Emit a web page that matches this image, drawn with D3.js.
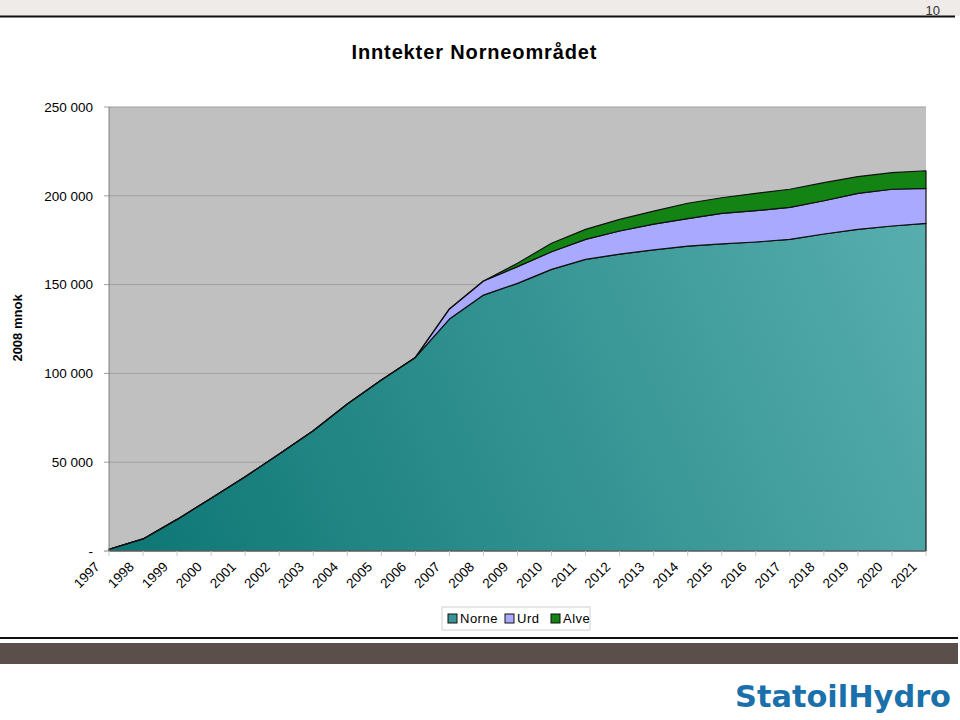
<!DOCTYPE html>
<html>
<head>
<meta charset="utf-8">
<script src="https://cdn.jsdelivr.net/npm/d3@7"></script>
<style>
  body { margin: 0; background: #fff; }
  svg { display: block; font-family: "Liberation Sans", Arial, sans-serif; }
</style>
</head>
<body>
<svg width="960" height="720"></svg>
<script>
// Years on the x axis
let years = d3.range(1997, 2022);

// Stacked revenue (mnok, 2008 value) per field
let norne = [1000, 6800, 17800, 29700, 41800, 54600, 67700, 82800, 96300, 109000,
    130600, 144100, 150700, 158600, 164200, 167200, 169500, 171700, 172900, 174000,
    175500, 178500, 181100, 183000, 184500];
let urd = [0, 0, 0, 0, 0, 0, 0, 0, 0, 0,
    5700, 7900, 9400, 9900, 11300, 13000, 14600, 15400, 17200, 17600,
    18000, 18700, 20300, 20700, 19700];
let alve = [0, 0, 0, 0, 0, 0, 0, 0, 0, 0,
    0, 0, 1900, 4800, 5600, 6500, 7300, 8700, 8800, 9800,
    10200, 10200, 9400, 9300, 9900];

let seriesNames = ["Norne", "Urd", "Alve"];
let yTicks = [0, 50000, 100000, 150000, 200000, 250000];

// The svg
let svg = d3.select("svg"),
    width = +svg.attr("width"),
    height = +svg.attr("height");

let margin = {left: 109, right: 34, top: 107, bottom: 169};

let x = d3.scaleLinear()
    .domain([1997, 2021])
    .range([margin.left, width - margin.right]);

let y = d3.scaleLinear()
    .domain([0, 250000])
    .range([height - margin.bottom, margin.top]);

// Header strip with page number
svg.append("rect")
    .attr("x", 0).attr("y", 0)
    .attr("width", width).attr("height", 16)
    .attr("fill", "#eeebe8");
svg.append("line")
    .attr("x1", 0).attr("x2", 955)
    .attr("y1", 16.5).attr("y2", 16.5)
    .attr("stroke", "#111").attr("stroke-width", 2);
svg.append("text")
    .attr("x", 940).attr("y", 15)
    .attr("text-anchor", "end")
    .style("font-size", "13px")
    .style("fill", "#333")
    .text("10");

// Title
svg.append("text")
    .attr("x", 474).attr("y", 59)
    .attr("text-anchor", "middle")
    .attr("textLength", 245)
    .style("font-size", "20px")
    .style("font-weight", "bold")
    .text("Inntekter Norneområdet");

// Gradient for Norne
let defs = svg.append("defs");
let grad = defs.append("linearGradient")
    .attr("id", "norneGrad")
    .attr("gradientUnits", "userSpaceOnUse")
    .attr("x1", x(1997)).attr("y1", y(0))
    .attr("x2", x(2021)).attr("y2", y(190000));
grad.append("stop").attr("offset", "0%").attr("stop-color", "#0c7674");
grad.append("stop").attr("offset", "100%").attr("stop-color", "#58aeae");

// Plot background
svg.append("rect")
    .attr("x", x(1997)).attr("y", y(250000))
    .attr("width", x(2021) - x(1997))
    .attr("height", y(0) - y(250000))
    .attr("fill", "#c0c0c0");

// Grid lines
svg.selectAll(".grid")
    .data(yTicks.filter(d => d > 0))
    .enter().append("line")
    .attr("x1", x(1997) - 5).attr("x2", x(2021))
    .attr("y1", d => y(d)).attr("y2", d => y(d))
    .attr("stroke", "#a0a0a0")
    .attr("stroke-width", 1);

// Stack the data
let table = years.map((yr, i) => ({year: yr, Norne: norne[i], Urd: urd[i], Alve: alve[i]}));
let stacked = d3.stack().keys(seriesNames)(table);
let fills = {Norne: "url(#norneGrad)", Urd: "#a9a9ff", Alve: "#138313"};

let area = d3.area()
    .x(d => x(d.data.year))
    .y0(d => y(d[0]))
    .y1(d => y(d[1]));

svg.selectAll(".layer")
    .data(stacked)
    .enter().append("path")
    .attr("class", "layer")
    .attr("d", area)
    .attr("fill", d => fills[d.key])
    .attr("stroke", "#111")
    .attr("stroke-width", 1.2)
    .attr("stroke-linejoin", "round");

// Axes lines
svg.append("line")
    .attr("x1", x(1997)).attr("x2", x(1997))
    .attr("y1", y(250000)).attr("y2", y(0))
    .attr("stroke", "#808080");
svg.append("line")
    .attr("x1", x(1997) - 5).attr("x2", x(2021))
    .attr("y1", y(0)).attr("y2", y(0))
    .attr("stroke", "#808080");

// x ticks
svg.selectAll(".xtick")
    .data(years)
    .enter().append("line")
    .attr("x1", d => x(d)).attr("x2", d => x(d))
    .attr("y1", y(0)).attr("y2", y(0) + 5)
    .attr("stroke", "#c8c8c8");

// x labels
svg.selectAll(".xlabel")
    .data(years)
    .enter().append("text")
    .attr("transform", d => "translate(" + (x(d) - 15) + "," + (y(0) + 10) + ") rotate(-45)")
    .attr("text-anchor", "end")
    .attr("dy", "0.7em")
    .style("font-size", "13.5px")
    .text(d => d);

// y labels
svg.selectAll(".ylabel")
    .data(yTicks)
    .enter().append("text")
    .attr("x", 93)
    .attr("y", d => y(d))
    .attr("dy", "0.35em")
    .attr("text-anchor", "end")
    .style("font-size", "13.5px")
    .text(d => d === 0 ? "-" : d3.format(",")(d).replace(",", " "));

// y axis title
svg.append("text")
    .attr("transform", "translate(22,328) rotate(-90)")
    .attr("text-anchor", "middle")
    .style("font-size", "13px")
    .style("font-weight", "bold")
    .text("2008 mnok");

// Legend
let legend = svg.append("g").attr("transform", "translate(442,607)");
legend.append("rect")
    .attr("width", 148).attr("height", 23)
    .attr("fill", "#fff")
    .attr("stroke", "#d0d0d0");
let legendX = [6, 63, 109];
let legendColors = ["#3a9696", "#a9a9ff", "#138313"];
seriesNames.forEach(function (name, i) {
    legend.append("rect")
        .attr("x", legendX[i]).attr("y", 7)
        .attr("width", 9).attr("height", 9)
        .attr("fill", legendColors[i])
        .attr("stroke", "#111");
    legend.append("text")
        .attr("x", legendX[i] + 12).attr("y", 16)
        .style("font-size", "13px")
        .style("letter-spacing", "0.5px")
        .text(name);
});

// Footer
svg.append("line")
    .attr("x1", 0).attr("x2", 958)
    .attr("y1", 638).attr("y2", 638)
    .attr("stroke", "#111").attr("stroke-width", 2);
svg.append("rect")
    .attr("x", 0).attr("y", 643)
    .attr("width", 958).attr("height", 21)
    .attr("fill", "#5a4f4a");
svg.append("text")
    .attr("x", 735).attr("y", 707)
    .attr("textLength", 216)
    .attr("lengthAdjust", "spacingAndGlyphs")
    .style("font-family", "'DejaVu Sans', sans-serif")
    .style("font-size", "31px")
    .style("font-weight", "bold")
    .style("fill", "#1a70aa")
    .text("StatoilHydro");
</script>
</body>
</html>
